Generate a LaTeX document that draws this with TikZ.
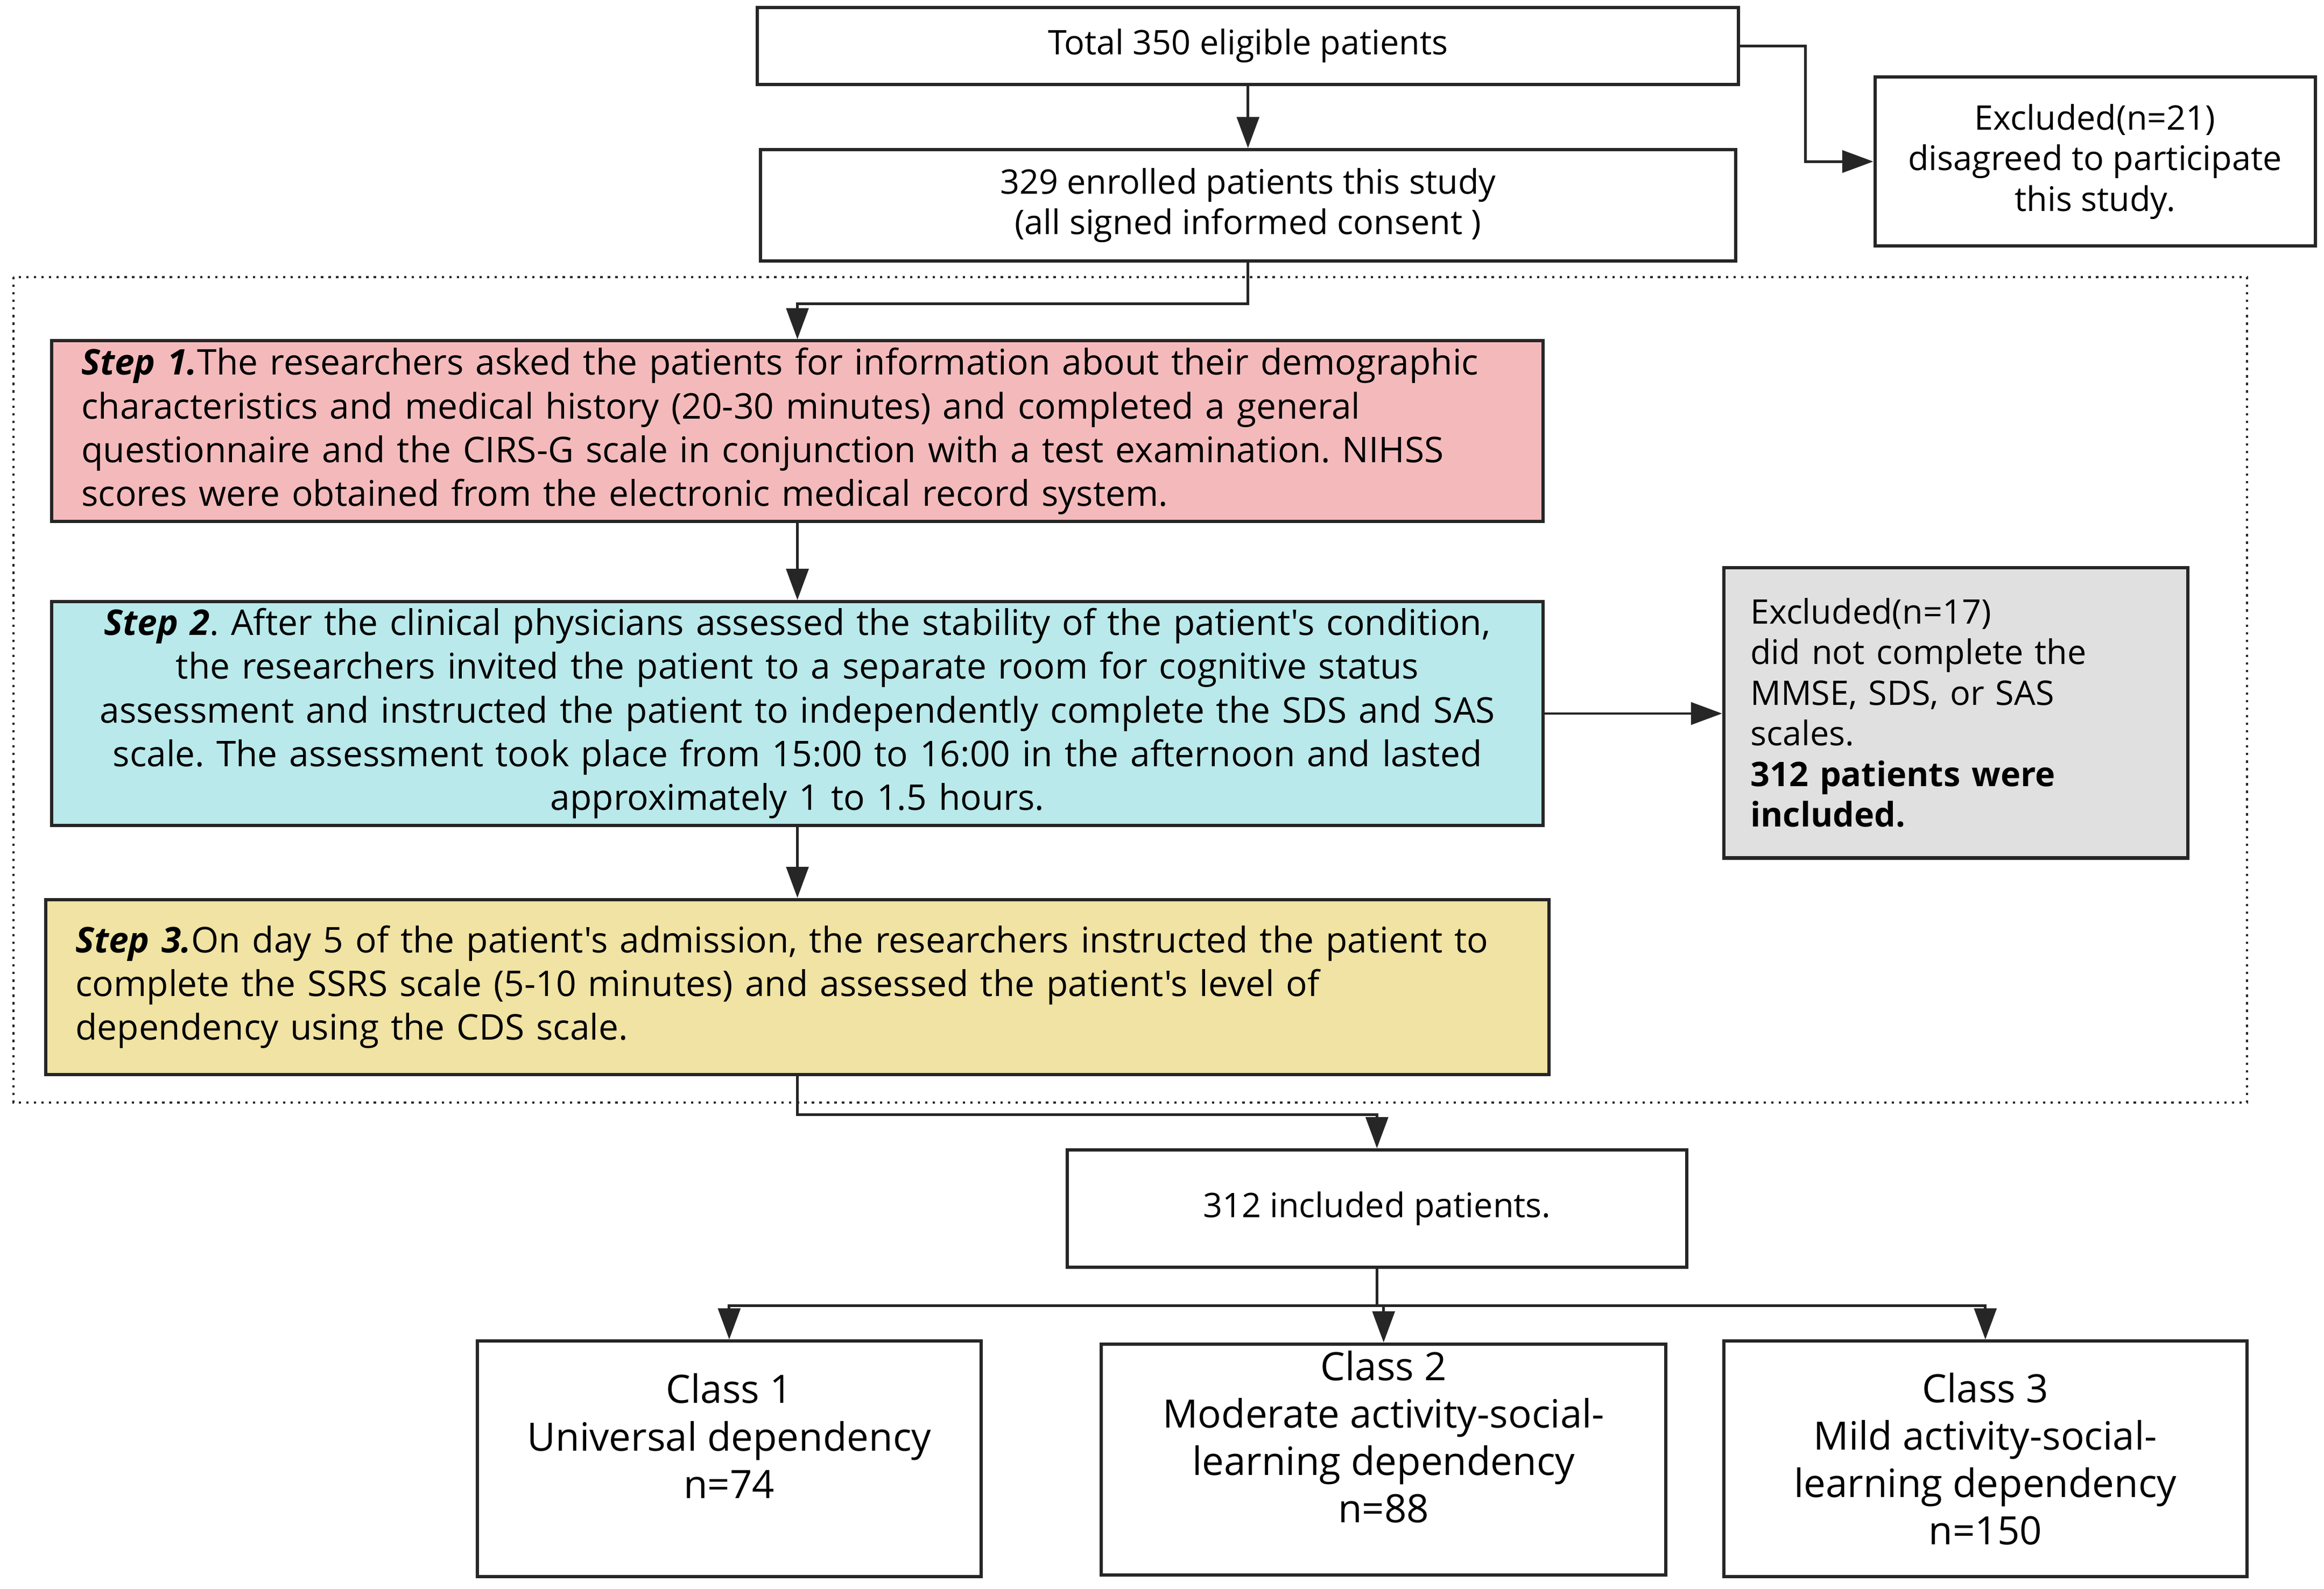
\documentclass[tikz,border=0pt]{standalone}
\usepackage{fontspec}
\setmainfont{Open Sans}[Ligatures=TeXOff]
\usetikzlibrary{arrows.meta}
\frenchspacing

\definecolor{boxline}{HTML}{262626}
\definecolor{steponefill}{HTML}{F4BABB}
\definecolor{steptwofill}{HTML}{B9E9EB}
\definecolor{stepthreefill}{HTML}{F0E3A3}
\definecolor{exclfill}{HTML}{E0E0E0}

\tikzset{
  flowbox/.style={draw=boxline, line width=1.25pt, align=center, inner sep=0pt,
    font=\fontsize{13}{15.6}\selectfont},
  stepbox/.style={draw=boxline, line width=1.25pt, inner xsep=0.4cm, inner ysep=0pt,
    font=\fontsize{13.6}{16.8}\selectfont},
  classbox/.style={draw=boxline, line width=1.25pt, align=center, inner sep=0pt,
    font=\fontsize{15}{18.2}\selectfont},
  arr/.style={draw=boxline, line width=1pt, -{Triangle[length=4.2mm,width=3mm]}}
}

\begin{document}
\begin{tikzpicture}
\useasboundingbox (0,0) rectangle (31.36,-21.44);

% Top of the flow
\node[flowbox, minimum width=13.24cm, minimum height=1.04cm] (total) at (16.84,-0.62) {Total 350 eligible patients};
\node[flowbox, minimum width=13.16cm, minimum height=1.50cm] (enrolled) at (16.84,-2.77) {329 enrolled patients this study\\(all signed informed consent )};
\node[flowbox, minimum width=5.94cm, minimum height=2.28cm] (exclA) at (28.27,-2.18) {Excluded(n=21)\\disagreed to participate\\this study.};
\coordinate (turnA) at (24.36,-0.62);

% Dotted frame round the three steps
\draw[boxline, dotted, line width=0.9pt] (0.18,-3.74) rectangle (30.32,-14.88);

% The three steps
\node[stepbox, fill=steponefill, text width=19.32cm, align=left, minimum height=2.44cm] (stepA) at (10.76,-5.82)
  {\textbf{\textit{Step 1.}}The researchers asked the patients for information about their demographic\\characteristics and medical history (20-30 minutes) and completed a general\\questionnaire and the CIRS-G scale in conjunction with a test examination. NIHSS\\scores were obtained from the electronic medical record system.};
\node[stepbox, fill=steptwofill, text width=19.32cm, align=center, minimum height=3.02cm] (stepB) at (10.76,-9.63)
  {\textbf{\textit{Step 2}}. After the clinical physicians assessed the stability of the patient's condition,\\the researchers invited the patient to a separate room for cognitive status\\assessment and instructed the patient to independently complete the SDS and SAS\\scale. The assessment took place from 15:00 to 16:00 in the afternoon and lasted\\approximately 1 to 1.5 hours.};
\node[stepbox, fill=stepthreefill, text width=19.48cm, align=left, minimum height=2.36cm] (stepC) at (10.76,-13.32)
  {\textbf{\textit{Step 3.}}On day 5 of the patient's admission, the researchers instructed the patient to\\complete the SSRS scale (5-10 minutes) and assessed the patient's level of\\dependency using the CDS scale.};
\node[flowbox, fill=exclfill, inner xsep=0.36cm, text width=5.54cm, align=left, minimum height=3.92cm] (exclB) at (26.39,-9.62)
  {Excluded(n=17)\\did not complete the\\MMSE, SDS, or SAS\\scales.\\\textbf{312 patients were}\\\textbf{included.}};

% Result and classes
\node[flowbox, minimum width=8.36cm, minimum height=1.58cm] (included) at (18.58,-16.31) {312 included patients.};
\node[classbox, minimum width=6.80cm, minimum height=3.18cm] (classA) at (9.84,-19.69) {Class 1\\Universal dependency\\n=74\\[-6pt]\strut};
\node[classbox, minimum width=7.62cm, minimum height=3.12cm] (classB) at (18.67,-19.70) {Class 2\\Moderate activity-social-\\learning dependency\\n=88\\[-6pt]\strut};
\node[classbox, minimum width=7.06cm, minimum height=3.18cm] (classC) at (26.79,-19.69) {Class 3\\Mild activity-social-\\learning dependency\\n=150};

% Connectors
\draw[arr] (total) -- (enrolled);
\draw[arr] (total.east) -- (turnA) |- (exclA.west);
\draw[arr] (enrolled.south) -- ++(0,-0.56) -| (stepA.north);
\draw[arr] (stepA) -- (stepB);
\draw[arr] (stepB.east) -- (stepB.east -| exclB.west);
\draw[arr] (stepB) -- (stepC);
\draw[arr] (stepC.south) -- ++(0,-0.52) -| (included.north);
\draw[arr] (included.south) -- ++(0,-0.5) -| (classA.north);
\draw[arr] (included.south) -- ++(0,-0.5) -| (classB.north);
\draw[arr] (included.south) -- ++(0,-0.5) -| (classC.north);
\end{tikzpicture}
\end{document}
